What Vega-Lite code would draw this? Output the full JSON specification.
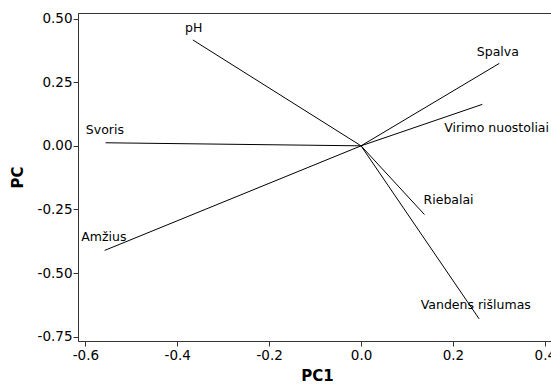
{
  "$schema": "https://vega.github.io/schema/vega-lite/v6.json",
  "width": 478,
  "height": 328,
  "autosize": {"type": "none"},
  "padding": {"left": 78, "top": 13, "right": 0, "bottom": 43},
  "background": "white",
  "config": {
    "view": {"stroke": "#333", "strokeWidth": 1},
    "font": "DejaVu Sans"
  },
  "data": {
    "values": [
      {"name": "pH", "pc1": -0.366, "pc2": 0.416, "lx": -0.383, "ly": 0.463},
      {"name": "Spalva", "pc1": 0.301, "pc2": 0.324, "lx": 0.252, "ly": 0.370},
      {"name": "Virimo nuostoliai", "pc1": 0.264, "pc2": 0.163, "lx": 0.181, "ly": 0.072},
      {"name": "Svoris", "pc1": -0.556, "pc2": 0.012, "lx": -0.599, "ly": 0.062},
      {"name": "Amžius", "pc1": -0.558, "pc2": -0.411, "lx": -0.609, "ly": -0.359},
      {"name": "Riebalai", "pc1": 0.138, "pc2": -0.270, "lx": 0.136, "ly": -0.214},
      {"name": "Vandens rišlumas", "pc1": 0.257, "pc2": -0.680, "lx": 0.130, "ly": -0.627}
    ]
  },
  "layer": [
    {
      "mark": {"type": "rule", "color": "black", "strokeWidth": 1},
      "encoding": {
        "x": {
          "field": "pc1", "type": "quantitative",
          "scale": {"domain": [-0.616, 0.4243], "nice": false, "zero": false},
          "axis": {
            "title": "PC1",
            "values": [-0.6, -0.4, -0.2, 0, 0.2, 0.4],
            "labelExpr": "replace(format(datum.value, '.1f'), '\u2212', '-')",
            "grid": false,
            "domainColor": "#333",
            "tickColor": "#333",
            "tickSize": 5,
            "labelPadding": 2,
            "labelFont": "DejaVu Sans",
            "labelFontSize": 13.5,
            "labelColor": "black",
            "titleFont": "DejaVu Sans",
            "titleFontSize": 15,
            "titleFontWeight": "bold",
            "titleColor": "black",
            "titleY": 34,
            "titleBaseline": "middle"
          }
        },
        "y": {
          "field": "pc2", "type": "quantitative",
          "scale": {"domain": [-0.767, 0.522], "nice": false, "zero": false},
          "axis": {
            "title": "PC",
            "values": [-0.75, -0.5, -0.25, 0, 0.25, 0.5],
            "labelExpr": "replace(format(datum.value, '.2f'), '\u2212', '-')",
            "grid": false,
            "domainColor": "#333",
            "tickColor": "#333",
            "tickSize": 5,
            "labelPadding": 1,
            "labelFont": "DejaVu Sans",
            "labelFontSize": 13.5,
            "labelColor": "black",
            "titleFont": "DejaVu Sans",
            "titleFontSize": 15,
            "titleFontWeight": "bold",
            "titleColor": "black",
            "titleAngle": -90,
            "titleX": -61,
            "titleY": 164,
            "titleAlign": "center",
            "titleBaseline": "middle"
          }
        },
        "x2": {"datum": 0},
        "y2": {"datum": 0}
      }
    },
    {
      "mark": {"type": "text", "align": "left", "baseline": "middle", "font": "DejaVu Sans", "fontSize": 12.5, "color": "black"},
      "encoding": {
        "x": {"field": "lx", "type": "quantitative"},
        "y": {"field": "ly", "type": "quantitative"},
        "text": {"field": "name"}
      }
    }
  ]
}
